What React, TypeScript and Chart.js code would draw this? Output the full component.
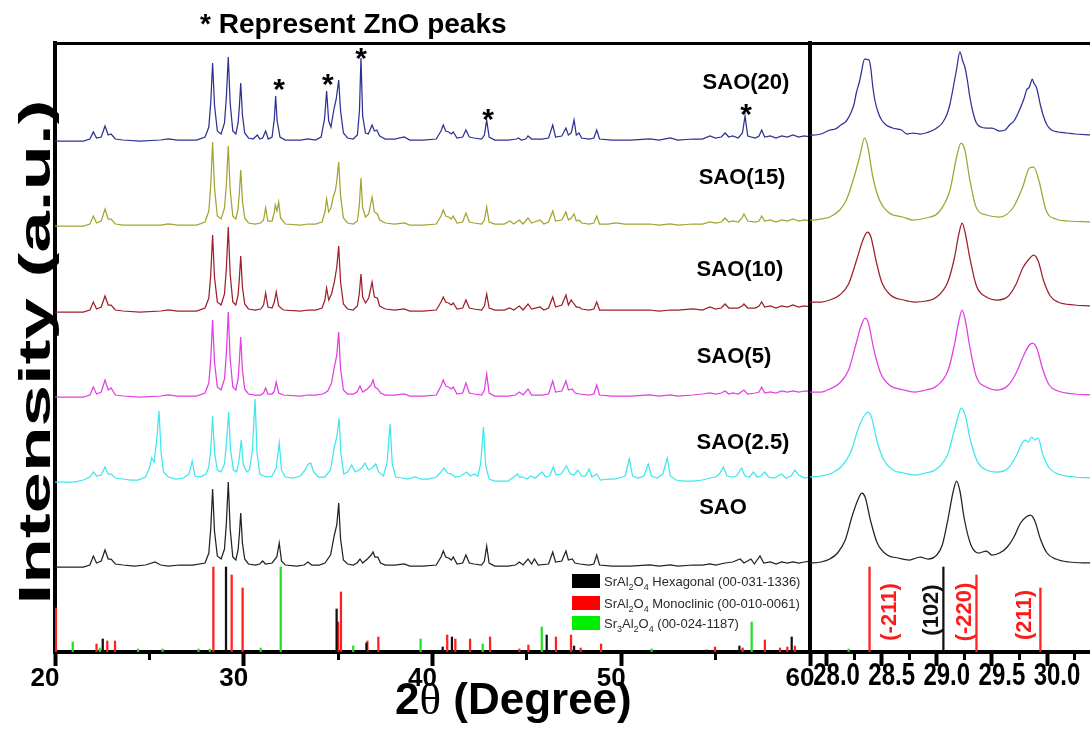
import React, { useEffect, useRef } from 'react';
import { Chart, registerables } from 'chart.js';
Chart.register(...registerables);

const FONT = '"Liberation Sans", Arial, Helvetica, sans-serif';
const SERIF = '"Liberation Serif", "DejaVu Serif", "Times New Roman", serif';

type Pt = [number, number];

// ---------- categories ----------
const seriesNames = ['SAO', 'SAO(2.5)', 'SAO(5)', 'SAO(10)', 'SAO(15)', 'SAO(20)'];
const seriesColors = ['#222222', '#3fe6ee', '#e23ee2', '#9e1f2b', '#a3a332', '#2e3192'];
// vertical stacking offsets (intensity units) of each trace
const leftOffsets = [85, 170, 255, 340, 426, 511];
const rightOffsets = [87, 172, 257, 346, 430, 515];

// ---------- axis ranges / tick steps ----------
const leftRange = [20, 60];
const leftMajorStep = 10;
const leftMinorStep = 5;
const rightRange = [27.85, 30.39];
const rightMajorStep = 0.5;
const rightMinorStep = 0.25;
const yRange = [0, 609];

// ---------- wide scan traces: [2theta, intensity] ----------
const sao20: Pt[] = [[20,0],[21.5,0],[21.85,2],[22.03,9],[22.2,3],[22.45,4],[22.65,15],[22.82,6],[22.97,7],[23.2,2],[23.6,1],[24.5,0],[25.6,1],[26.0,2],[26.5,1],[27.5,1],[27.95,4],[28.15,14],[28.25,38],[28.35,78],[28.45,36],[28.6,10],[28.8,7],[28.98,18],[29.08,44],[29.18,84],[29.28,38],[29.42,10],[29.58,7],[29.7,18],[29.77,35],[29.84,58],[29.93,26],[30.05,8],[30.25,3],[30.5,2],[30.72,6],[30.85,2],[31.0,3],[31.16,10],[31.3,2],[31.5,4],[31.62,22],[31.69,45],[31.77,20],[31.92,4],[32.2,1],[33.0,1],[33.4,2],[33.8,1],[34.1,4],[34.28,22],[34.39,50],[34.5,20],[34.62,14],[34.78,32],[34.9,42],[35.03,61],[35.13,30],[35.28,8],[35.5,3],[35.8,2],[36.02,6],[36.13,30],[36.21,83],[36.3,25],[36.45,8],[36.6,7],[36.8,16],[36.92,10],[37.05,11],[37.2,5],[37.5,2],[38.0,2],[38.5,4],[38.8,1],[39.5,1],[40.2,2],[40.45,10],[40.57,16],[40.7,10],[40.85,9],[41.0,7],[41.1,9],[41.3,3],[41.6,4],[41.77,11],[41.95,4],[42.2,3],[42.6,2],[42.75,6],[42.87,21],[43.0,4],[43.3,1],[44.0,1],[44.45,2],[44.55,3],[44.7,1],[44.95,2],[45.06,5],[45.25,2],[45.8,2],[46.15,3],[46.37,16],[46.52,4],[46.85,5],[47.07,13],[47.2,6],[47.35,8],[47.5,21],[47.62,6],[47.76,8],[47.9,3],[48.3,2],[48.55,3],[48.7,11],[48.85,2],[49.5,1],[50.5,1],[51.5,2],[52.0,1],[52.6,3],[53.0,1],[53.8,2],[54.3,2],[54.7,5],[55.0,3],[55.3,4],[55.5,8],[55.7,4],[55.9,5],[56.2,3],[56.42,8],[56.56,25],[56.7,5],[57.1,3],[57.3,5],[57.44,11],[57.6,4],[57.9,5],[58.2,3],[58.5,5],[58.8,4],[59.1,6],[59.4,4],[59.7,5],[60,4]];

const sao15: Pt[] = [[20,0],[21.5,0],[21.85,2],[22.03,10],[22.2,3],[22.45,5],[22.65,17],[22.82,7],[22.97,7],[23.2,2],[23.6,1],[24.5,1],[25.6,1],[26.0,2],[26.5,1],[27.5,1],[27.95,4],[28.15,15],[28.25,40],[28.35,84],[28.45,38],[28.6,10],[28.8,7],[28.98,18],[29.08,42],[29.18,80],[29.28,36],[29.42,10],[29.58,7],[29.7,17],[29.77,34],[29.84,56],[29.93,25],[30.05,8],[30.25,3],[30.6,2],[30.9,3],[31.05,6],[31.16,18],[31.28,5],[31.5,5],[31.6,12],[31.67,21],[31.76,15],[31.85,24],[31.95,8],[32.2,2],[33.0,1],[33.4,2],[33.8,2],[34.15,4],[34.3,14],[34.39,27],[34.5,14],[34.62,18],[34.75,30],[34.85,35],[34.93,45],[35.03,64],[35.13,30],[35.28,8],[35.5,3],[35.8,2],[36.02,5],[36.12,20],[36.21,48],[36.3,18],[36.45,9],[36.62,12],[36.8,29],[36.92,14],[37.08,12],[37.2,6],[37.5,3],[38.0,2],[38.5,3],[38.8,1],[39.5,1],[40.2,2],[40.45,10],[40.57,16],[40.7,10],[40.85,9],[41.0,7],[41.1,10],[41.3,3],[41.6,4],[41.77,13],[41.95,4],[42.2,3],[42.6,2],[42.75,6],[42.87,19],[43.0,4],[43.3,2],[43.8,2],[44.1,5],[44.3,2],[44.6,6],[44.8,2],[45.06,8],[45.25,3],[45.7,6],[45.9,2],[46.15,4],[46.37,15],[46.52,5],[46.85,6],[47.07,14],[47.2,6],[47.35,8],[47.5,12],[47.62,5],[47.76,6],[47.9,3],[48.3,2],[48.55,3],[48.7,10],[48.85,2],[49.3,2],[49.7,3],[50.2,2],[50.8,2],[51.5,2],[52.0,1],[52.6,2],[53.0,1],[53.8,2],[54.3,2],[54.7,4],[55.0,3],[55.3,4],[55.5,8],[55.7,4],[55.9,5],[56.2,4],[56.4,8],[56.5,12],[56.7,5],[57.1,4],[57.3,5],[57.44,10],[57.6,5],[57.9,6],[58.2,4],[58.5,6],[58.8,5],[59.1,7],[59.4,5],[59.7,6],[60,5]];

const sao10: Pt[] = [[20,0],[21.5,0],[21.85,2],[22.03,10],[22.2,3],[22.45,5],[22.65,16],[22.82,7],[22.97,7],[23.2,2],[23.6,1],[24.5,0],[25.6,1],[26.0,2],[26.5,1],[27.5,1],[27.95,4],[28.15,14],[28.25,37],[28.35,77],[28.45,35],[28.6,10],[28.8,7],[28.98,18],[29.08,44],[29.18,85],[29.28,38],[29.42,10],[29.58,7],[29.7,17],[29.77,34],[29.84,56],[29.93,25],[30.05,8],[30.25,3],[30.6,2],[30.9,3],[31.05,7],[31.16,19],[31.28,5],[31.5,4],[31.62,10],[31.72,20],[31.85,6],[32.1,2],[33.0,1],[33.4,2],[33.8,2],[34.15,4],[34.3,12],[34.39,24],[34.5,12],[34.65,18],[34.8,30],[34.93,45],[35.03,66],[35.13,30],[35.28,8],[35.5,3],[35.8,2],[36.02,6],[36.12,18],[36.21,38],[36.3,15],[36.45,9],[36.62,14],[36.8,30],[36.92,15],[37.08,14],[37.2,6],[37.5,3],[38.0,2],[38.5,3],[38.8,1],[39.5,1],[40.2,2],[40.45,10],[40.57,15],[40.7,10],[40.85,9],[41.0,7],[41.1,9],[41.3,3],[41.6,4],[41.77,12],[41.95,4],[42.2,3],[42.6,2],[42.75,6],[42.87,18],[43.0,4],[43.3,2],[43.8,2],[44.1,4],[44.3,2],[44.6,6],[44.8,2],[45.06,8],[45.25,3],[45.7,5],[45.9,2],[46.15,4],[46.37,15],[46.52,5],[46.85,7],[47.07,17],[47.2,7],[47.35,12],[47.5,8],[47.62,5],[47.76,5],[47.9,3],[48.3,2],[48.55,3],[48.7,10],[48.85,2],[49.3,2],[49.7,2],[50.2,2],[50.8,2],[51.5,2],[52.0,1],[52.6,2],[53.0,2],[53.8,3],[54.3,2],[54.7,5],[55.0,3],[55.3,4],[55.5,8],[55.7,4],[55.9,4],[56.2,4],[56.4,6],[56.5,8],[56.7,4],[57.1,4],[57.3,6],[57.44,10],[57.6,5],[57.9,6],[58.2,4],[58.5,6],[58.8,5],[59.1,7],[59.4,5],[59.7,6],[60,5]];

const sao5: Pt[] = [[20,0],[21.5,0],[21.85,2],[22.03,10],[22.2,3],[22.45,5],[22.65,17],[22.82,7],[22.97,9],[23.2,2],[23.6,1],[24.5,0],[25.6,1],[26.0,2],[26.5,1],[27.5,1],[27.95,4],[28.15,14],[28.25,37],[28.35,77],[28.45,35],[28.6,10],[28.8,7],[28.98,18],[29.08,44],[29.18,85],[29.28,38],[29.42,10],[29.58,7],[29.7,18],[29.77,37],[29.84,60],[29.93,27],[30.05,8],[30.25,3],[30.6,2],[30.9,2],[31.05,4],[31.16,9],[31.28,3],[31.5,3],[31.62,6],[31.72,15],[31.85,4],[32.1,2],[33.0,1],[33.4,2],[33.8,2],[34.2,3],[34.45,6],[34.65,14],[34.8,30],[34.93,42],[35.03,65],[35.13,28],[35.28,7],[35.5,3],[35.8,3],[36.0,5],[36.16,11],[36.3,5],[36.55,8],[36.75,12],[36.85,17],[36.95,10],[37.1,8],[37.25,4],[37.5,2],[38.0,2],[38.5,3],[38.8,1],[39.5,1],[40.2,2],[40.45,11],[40.57,17],[40.7,11],[40.85,10],[41.0,8],[41.1,10],[41.3,3],[41.6,4],[41.77,14],[41.95,4],[42.2,3],[42.6,2],[42.75,7],[42.87,23],[43.0,4],[43.3,1],[44.0,1],[44.4,2],[44.6,5],[44.8,2],[45.06,8],[45.25,2],[45.8,2],[46.15,3],[46.37,16],[46.52,5],[46.85,6],[47.07,16],[47.2,7],[47.4,8],[47.55,4],[47.8,3],[48.3,2],[48.55,3],[48.7,12],[48.85,2],[49.5,1],[50.5,1],[51.5,2],[52.0,1],[52.6,2],[53.0,1],[53.8,2],[54.3,3],[54.7,4],[55.0,3],[55.3,4],[55.5,6],[55.7,3],[55.9,4],[56.2,3],[56.5,7],[56.7,3],[57.1,4],[57.3,5],[57.44,10],[57.6,4],[57.9,5],[58.2,4],[58.5,6],[58.8,5],[59.1,6],[59.4,5],[59.7,6],[60,6]];

const sao25: Pt[] = [[20,0],[21.0,0],[21.5,2],[21.85,5],[22.03,10],[22.2,6],[22.45,7],[22.65,15],[22.82,8],[22.97,8],[23.2,4],[23.6,3],[24.0,2],[24.4,2],[24.8,5],[25.0,14],[25.12,24],[25.25,20],[25.38,40],[25.51,71],[25.62,30],[25.75,10],[26.0,5],[26.4,3],[26.8,4],[27.1,8],[27.27,21],[27.42,6],[27.7,5],[28.0,8],[28.15,15],[28.25,32],[28.35,66],[28.45,30],[28.6,12],[28.8,10],[28.98,18],[29.08,38],[29.2,70],[29.3,32],[29.45,12],[29.62,10],[29.74,20],[29.87,42],[29.97,18],[30.15,10],[30.3,12],[30.45,30],[30.6,83],[30.7,30],[30.85,8],[31.2,5],[31.5,6],[31.72,14],[31.88,39],[32.0,12],[32.2,5],[32.6,4],[33.0,6],[33.25,12],[33.42,18],[33.55,19],[33.7,10],[33.95,5],[34.3,5],[34.6,12],[34.8,35],[34.93,45],[35.05,64],[35.15,28],[35.3,8],[35.5,10],[35.72,17],[35.9,10],[36.1,12],[36.25,14],[36.42,19],[36.6,12],[36.8,14],[36.99,18],[37.15,10],[37.4,6],[37.6,20],[37.75,58],[37.87,18],[38.05,5],[38.4,4],[38.7,3],[39.07,5],[39.4,3],[39.8,3],[40.2,5],[40.45,10],[40.6,14],[40.8,9],[41.0,8],[41.2,5],[41.5,6],[41.81,10],[42.0,6],[42.2,8],[42.4,6],[42.55,18],[42.7,55],[42.82,16],[43.0,3],[43.3,1],[44.0,1],[44.3,5],[44.5,8],[44.6,5],[44.8,5],[45.0,3],[45.2,6],[45.45,4],[45.8,10],[46.0,5],[46.2,6],[46.4,15],[46.55,7],[46.8,8],[47.1,16],[47.3,8],[47.5,7],[47.7,12],[47.9,6],[48.1,6],[48.3,13],[48.45,5],[48.7,8],[48.9,2],[49.3,3],[49.6,3],[49.9,4],[50.2,6],[50.43,23],[50.6,6],[50.9,4],[51.2,6],[51.43,18],[51.6,6],[51.9,4],[52.2,8],[52.44,24],[52.6,6],[52.9,2],[53.3,1],[53.8,1],[54.3,2],[54.7,4],[55.0,5],[55.2,8],[55.41,15],[55.6,6],[55.9,5],[56.1,6],[56.38,14],[56.55,6],[56.8,5],[57.0,10],[57.2,5],[57.4,6],[57.6,10],[57.8,5],[58.1,4],[58.3,6],[58.5,8],[58.7,4],[59.0,6],[59.2,12],[59.4,7],[59.7,4],[60,5]];

const sao0: Pt[] = [[20,0],[21.5,0],[21.85,2],[22.03,11],[22.2,4],[22.45,6],[22.65,17],[22.82,8],[22.97,8],[23.2,3],[23.6,2],[24.2,1],[24.8,2],[25.3,5],[25.6,2],[26.0,1],[26.6,2],[27.3,2],[27.95,4],[28.15,14],[28.25,38],[28.35,78],[28.45,36],[28.6,11],[28.8,8],[28.98,18],[29.08,44],[29.18,85],[29.28,38],[29.42,10],[29.58,7],[29.7,17],[29.77,33],[29.84,54],[29.93,24],[30.05,8],[30.25,3],[30.6,2],[30.85,3],[31.0,6],[31.15,3],[31.5,4],[31.75,10],[31.88,24],[32.0,6],[32.2,2],[32.8,1],[33.2,2],[33.4,5],[33.6,2],[34.0,2],[34.3,4],[34.6,12],[34.8,32],[34.93,42],[35.03,64],[35.13,28],[35.28,7],[35.5,3],[35.8,2],[36.0,4],[36.16,8],[36.3,4],[36.55,8],[36.75,12],[36.85,15],[36.95,10],[37.1,10],[37.25,4],[37.5,2],[38.0,2],[38.5,3],[38.8,1],[39.5,1],[40.2,2],[40.45,10],[40.57,16],[40.7,10],[40.85,9],[41.0,7],[41.1,10],[41.3,3],[41.6,4],[41.77,12],[41.95,4],[42.2,3],[42.6,2],[42.75,6],[42.87,21],[43.0,4],[43.3,1],[44.0,1],[44.4,2],[44.6,5],[44.8,2],[45.06,8],[45.25,3],[45.4,8],[45.6,2],[46.15,3],[46.37,15],[46.52,5],[46.85,6],[47.07,16],[47.2,7],[47.4,8],[47.55,4],[47.8,3],[48.3,2],[48.55,3],[48.7,12],[48.85,2],[49.5,1],[50.5,1],[51.5,2],[52.0,1],[52.6,2],[53.0,1],[53.8,2],[54.3,2],[54.7,3],[55.0,2],[55.5,4],[55.9,5],[56.3,8],[56.5,4],[56.87,8],[57.05,3],[57.35,11],[57.55,4],[57.9,5],[58.2,3],[58.5,5],[58.8,4],[59.1,5],[59.4,4],[59.7,5],[60,6]];

const leftTraces = [sao0, sao25, sao5, sao10, sao15, sao20];

// ---------- zoomed traces (28-30.4 deg) ----------
const zSao20: Pt[] = [[27.85,2],[27.875,2],[27.95,3],[28.03,7],[28.08,8],[28.13,12],[28.18,16],[28.22,24],[28.25,33],[28.27,44],[28.3,56],[28.315,64],[28.345,78],[28.385,77],[28.4,70],[28.42,50],[28.44,36],[28.47,24],[28.5,17],[28.54,12],[28.6,9],[28.68,7],[28.73,3],[28.785,4],[28.85,3],[28.9,4],[28.95,6],[29.0,9],[29.05,14],[29.09,22],[29.12,33],[29.15,50],[29.18,68],[29.21,85],[29.235,76],[29.255,70],[29.28,55],[29.3,40],[29.33,24],[29.36,14],[29.4,10],[29.45,9],[29.5,9],[29.57,6],[29.62,7],[29.66,12],[29.7,16],[29.75,27],[29.79,38],[29.815,47],[29.84,50],[29.867,58],[29.88,54],[29.906,49],[29.94,32],[29.97,20],[30.0,12],[30.04,7],[30.1,5],[30.18,4],[30.25,3],[30.39,2]];
const zSao15: Pt[] = [[27.85,2],[27.875,2],[27.95,3],[28.03,5],[28.12,12],[28.18,22],[28.25,45],[28.3,65],[28.345,84],[28.375,75],[28.42,45],[28.48,22],[28.57,9],[28.69,5],[28.785,2],[28.9,4],[29.02,10],[29.12,32],[29.18,65],[29.22,79],[29.255,72],[29.3,42],[29.36,14],[29.45,7],[29.57,5],[29.69,14],[29.78,35],[29.84,54],[29.88,55],[29.93,40],[29.99,12],[30.08,3],[30.2,1],[30.39,0]];
const zSao10: Pt[] = [[27.85,4],[27.95,4],[28.03,6],[28.12,11],[28.2,22],[28.27,45],[28.33,66],[28.37,74],[28.4,70],[28.45,45],[28.5,24],[28.58,11],[28.7,6],[28.8,4],[28.9,5],[29.0,9],[29.1,24],[29.16,48],[29.2,72],[29.23,83],[29.26,72],[29.3,48],[29.36,20],[29.45,9],[29.55,6],[29.65,10],[29.72,22],[29.78,38],[29.83,46],[29.88,51],[29.92,45],[29.97,25],[30.03,10],[30.1,4],[30.25,1],[30.39,0]];
const zSao5: Pt[] = [[27.85,3],[27.95,3],[28.03,6],[28.12,12],[28.2,25],[28.26,48],[28.31,68],[28.35,77],[28.38,72],[28.43,45],[28.49,22],[28.57,10],[28.7,5],[28.8,3],[28.9,5],[29.0,9],[29.1,24],[29.16,50],[29.2,74],[29.23,85],[29.26,74],[29.3,48],[29.36,18],[29.45,8],[29.55,5],[29.65,10],[29.72,22],[29.79,40],[29.84,50],[29.87,52],[29.91,46],[29.96,26],[30.02,10],[30.1,4],[30.25,1],[30.39,0]];
const zSao25: Pt[] = [[27.85,3],[27.95,4],[28.05,7],[28.14,14],[28.22,28],[28.29,52],[28.34,64],[28.38,68],[28.41,62],[28.46,38],[28.52,20],[28.6,10],[28.7,7],[28.8,5],[28.9,7],[29.0,11],[29.1,26],[29.16,50],[29.2,66],[29.22,72],[29.26,64],[29.3,42],[29.37,18],[29.45,10],[29.55,8],[29.65,12],[29.72,24],[29.77,36],[29.8,40],[29.83,38],[29.86,43],[29.89,40],[29.92,42],[29.96,26],[30.02,12],[30.1,6],[30.25,3],[30.39,2]];
const zSao0: Pt[] = [[27.85,2],[27.95,3],[28.03,6],[28.1,12],[28.17,25],[28.23,48],[28.28,64],[28.32,72],[28.35,68],[28.4,44],[28.46,22],[28.55,10],[28.65,7],[28.75,5],[28.85,8],[28.92,6],[29.0,10],[29.05,20],[29.1,45],[29.15,74],[29.18,84],[29.21,74],[29.25,46],[29.31,20],[29.38,12],[29.45,14],[29.5,10],[29.57,12],[29.64,18],[29.7,28],[29.76,42],[29.81,48],[29.85,50],[29.89,44],[29.94,26],[30.0,12],[30.08,6],[30.2,3],[30.39,2]];
const rightTraces = [zSao0, zSao25, zSao5, zSao10, zSao15, zSao20];

// ---------- reference patterns (stick positions / heights) ----------
const hexSticks: Pt[] = [[22.53,13],[29.06,85],[34.92,43],[36.5,9],[40.54,5],[41.03,15],[46.05,17],[47.5,6],[54.52,2],[56.26,6],[59.03,15]];
const monoSticks: Pt[] = [[20.05,44],[22.2,8],[22.77,11],[23.18,11],[28.39,85],[29.36,77],[29.94,64],[35.0,30],[35.15,60],[36.55,11],[37.13,15],[40.78,17],[41.21,13],[41.99,13],[43.05,15],[44.6,3],[45.08,7],[46.54,15],[47.34,17],[47.85,4],[48.93,8],[54.97,5],[56.43,4],[57.61,12],[58.41,4],[58.8,5],[59.2,6]];
const sr3Sticks: Pt[] = [[20.94,10],[22.38,4],[24.4,3],[25.7,3],[27.6,3],[28.2,3],[30.9,4],[31.96,85],[35.8,6],[39.37,13],[42.66,8],[45.79,25],[51.61,3],[56.91,30]];
const stickColors = ['#111111', '#ff2020', '#22e022'];
const legendColors = ['#000000', '#ff0000', '#00ee00'];
const legendParts = [
  ['SrAl', '_2', 'O', '_4', ' Hexagonal (00-031-1336)'],
  ['SrAl', '_2', 'O', '_4', ' Monoclinic (00-010-0061)'],
  ['Sr', '_3', 'Al', '_2', 'O', '_4', ' (00-024-1187)'],
];

// ---------- annotations ----------
const labelPos: Pt[] = [[55.39, 144], [56.45, 209], [55.97, 295], [56.29, 382], [56.4, 474], [56.61, 569]];
const starPos: Pt[] = [[31.87, 569], [34.46, 574], [36.21, 600], [42.94, 539], [56.61, 544]];
const hklLabels = ['(-211)', '(102)', '(-220)', '(211)'];
const hklColors = ['#ff1a1a', '#111111', '#ff1a1a', '#ff1a1a'];
const hklPos: Pt[] = [[28.576, 40], [28.957, 42], [29.256, 40], [29.80, 37]];

const zeroH = (s: any) => { s.height = 0; };
const bottomH = (s: any) => { s.height = 77; };
const zeroW = (s: any) => { s.width = 0; };

function stickDatasets() {
  return [hexSticks, monoSticks, sr3Sticks].map((arr, i) => ({
    type: 'bar',
    data: arr.map(([x, h]) => ({ x, y: h })),
    backgroundColor: stickColors[i],
    borderWidth: 0,
    barThickness: 1.6,
    grouped: false,
    order: 2,
  }));
}

function traceDatasets(traces: Pt[][], offsets: number[], smooth: boolean) {
  return traces.map((tr, i) => ({
    type: 'line',
    data: tr.map(([x, v]) => ({ x, y: offsets[i] + v })),
    borderColor: seriesColors[i],
    borderWidth: 1.25,
    pointRadius: 0,
    tension: 0,
    cubicInterpolationMode: smooth ? 'monotone' : 'default',
    fill: false,
    order: 1,
  }));
}

function commonAxes(range: number[], majorStep: number, minorStep: number, showLabels: boolean) {
  return {
    x: {
      type: 'linear', position: 'bottom', min: range[0], max: range[1], offset: false, weight: 1,
      afterFit: bottomH,
      border: { display: true, width: 4, color: '#000' },
      grid: { display: true, offset: false, drawOnChartArea: false, drawTicks: true, tickLength: 14, tickWidth: 4, tickColor: '#000' },
      ticks: {
        stepSize: majorStep, includeBounds: false, autoSkip: false, maxRotation: 0, minRotation: 0,
        color: '#000', padding: -3, labelOffset: -10,
        font: { family: FONT, size: 26, weight: 'bold' },
        callback: (v: any) => (showLabels ? String(v) : ''),
      },
    },
    xMinor: {
      type: 'linear', position: 'bottom', min: range[0], max: range[1], offset: false, weight: 0,
      afterFit: zeroH,
      border: { display: false },
      grid: { display: true, offset: false, drawOnChartArea: false, drawTicks: true, tickLength: 8, tickWidth: 3, tickColor: '#000' },
      ticks: { stepSize: minorStep, includeBounds: false, autoSkip: false, maxRotation: 0, callback: () => '' },
    },
    xTop: {
      type: 'linear', position: 'top', min: range[0], max: range[1], offset: false,
      afterFit: zeroH,
      border: { display: true, width: 3, color: '#000' },
      grid: { display: true, offset: false, drawOnChartArea: false, drawTicks: false },
      ticks: { display: false },
    },
    y: {
      type: 'linear', position: 'left', min: yRange[0], max: yRange[1], offset: false,
      afterFit: zeroW,
      border: { display: true, width: 4, color: '#000' },
      grid: { display: true, drawOnChartArea: false, drawTicks: false },
      ticks: { display: false },
    },
  };
}

function drawRich(ctx: CanvasRenderingContext2D, parts: string[], x: number, y: number, size: number) {
  let cx = x;
  for (const p of parts) {
    const sub = p.startsWith('_');
    const t = sub ? p.slice(1) : p;
    ctx.font = `${sub ? Math.round(size * 0.68) : size}px ${FONT}`;
    ctx.fillText(t, cx, sub ? y + size * 0.3 : y);
    cx += ctx.measureText(t).width;
  }
}

const leftDecor = {
  id: 'leftDecor',
  afterDraw(chart: any) {
    const ctx: CanvasRenderingContext2D = chart.ctx;
    const xs = chart.scales.x;
    const ys = chart.scales.y;
    ctx.save();
    ctx.fillStyle = '#000';
    // header
    ctx.textAlign = 'left';
    ctx.textBaseline = 'alphabetic';
    ctx.font = `bold 28px ${FONT}`;
    ctx.fillText('* Represent ZnO peaks', 200, 33);
    // y title (stretched along its length)
    ctx.save();
    ctx.translate(50, 352);
    ctx.rotate(-Math.PI / 2);
    ctx.font = `bold 45px ${FONT}`;
    const yt = 'Intensity (a.u.)';
    const w = ctx.measureText(yt).width;
    ctx.scale(505 / w, 1);
    ctx.textAlign = 'center';
    ctx.fillText(yt, 0, 0);
    ctx.restore();
    // x title
    let cx = 395;
    const by = 714;
    ctx.font = `bold 44px ${FONT}`;
    ctx.fillText('2', cx, by);
    cx += ctx.measureText('2').width;
    ctx.font = `45px ${SERIF}`;
    ctx.fillText('\u03B8', cx, by);
    cx += ctx.measureText('\u03B8').width;
    ctx.font = `bold 44px ${FONT}`;
    ctx.fillText(' (Degree)', cx, by);
    // series labels
    ctx.font = `bold 22px ${FONT}`;
    ctx.textAlign = 'center';
    ctx.textBaseline = 'middle';
    seriesNames.forEach((n, i) => {
      ctx.fillText(n, xs.getPixelForValue(labelPos[i][0]), ys.getPixelForValue(labelPos[i][1]));
    });
    // stars
    ctx.font = `bold 30px ${FONT}`;
    ctx.textBaseline = 'alphabetic';
    starPos.forEach(([x, y]) => {
      ctx.fillText('*', xs.getPixelForValue(x), ys.getPixelForValue(y) + 16);
    });
    // legend of reference cards
    ctx.textAlign = 'left';
    const ly = [581, 603, 623];
    legendParts.forEach((parts, i) => {
      ctx.fillStyle = legendColors[i];
      ctx.fillRect(572, ly[i] - 7, 28, 14);
      ctx.fillStyle = '#2a2a2a';
      drawRich(ctx, parts, 604, ly[i] + 5, 13);
    });
    ctx.restore();
  },
};

const rightDecor = {
  id: 'rightDecor',
  afterDraw(chart: any) {
    const ctx: CanvasRenderingContext2D = chart.ctx;
    const xs = chart.scales.x;
    const ys = chart.scales.y;
    ctx.save();
    // tick labels (drawn slightly stretched vertically like the original)
    ctx.fillStyle = '#000';
    ctx.font = `bold 25px ${FONT}`;
    ctx.textAlign = 'center';
    ctx.textBaseline = 'middle';
    xs.ticks.forEach((t: any) => {
      const px = xs.getPixelForValue(t.value) + 10;
      ctx.save();
      ctx.translate(px, 677);
      ctx.scale(0.96, 1.22);
      ctx.fillText(Number(t.value).toFixed(1), 0, 0);
      ctx.restore();
    });
    // hkl labels
    ctx.font = `bold 22px ${FONT}`;
    hklLabels.forEach((t, i) => {
      ctx.save();
      ctx.translate(xs.getPixelForValue(hklPos[i][0]), ys.getPixelForValue(hklPos[i][1]));
      ctx.rotate(-Math.PI / 2);
      ctx.fillStyle = hklColors[i];
      ctx.fillText(t, 0, 0);
      ctx.restore();
    });
    ctx.restore();
  },
};

export default function App() {
  const leftRef = useRef<HTMLCanvasElement>(null);
  const rightRef = useRef<HTMLCanvasElement>(null);

  useEffect(() => {
    const base = {
      responsive: false,
      animation: false,
      devicePixelRatio: 1,
      events: [],
      plugins: { legend: { display: false }, tooltip: { enabled: false }, title: { display: false } },
    };
    const left = new Chart(leftRef.current as HTMLCanvasElement, {
      type: 'line',
      data: { datasets: [...stickDatasets(), ...traceDatasets(leftTraces, leftOffsets, false)] as any },
      options: {
        ...base,
        layout: { padding: { left: 55, right: 280, top: 43, bottom: 0 } },
        scales: commonAxes(leftRange, leftMajorStep, leftMinorStep, true) as any,
      } as any,
      plugins: [leftDecor],
    });
    const right = new Chart(rightRef.current as HTMLCanvasElement, {
      type: 'line',
      data: { datasets: [...stickDatasets(), ...traceDatasets(rightTraces, rightOffsets, true)] as any },
      options: {
        ...base,
        layout: { padding: { left: 810, right: 0, top: 43, bottom: 0 } },
        scales: commonAxes(rightRange, rightMajorStep, rightMinorStep, false) as any,
      } as any,
      plugins: [rightDecor],
    });
    return () => {
      left.destroy();
      right.destroy();
    };
  }, []);

  return (
    <div style={{ position: 'absolute', left: 0, top: 0, width: 1090, height: 729, background: '#fff', overflow: 'hidden' }}>
      <canvas ref={leftRef} width={1090} height={729} style={{ position: 'absolute', left: 0, top: 0 }} />
      <canvas ref={rightRef} width={1090} height={729} style={{ position: 'absolute', left: 0, top: 0 }} />
    </div>
  );
}
